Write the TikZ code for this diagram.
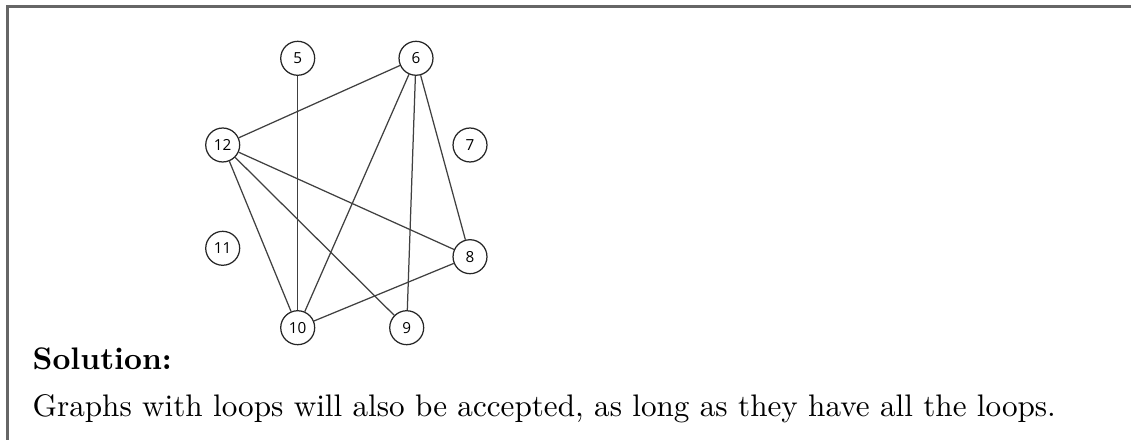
\documentclass[tikz,border=0pt]{standalone}
\usepackage{fontspec}
\usepackage{tikz}
\newfontfamily\vertexfont{Open Sans}

\tikzset{
  vertex/.style={draw=black!85, line width=0.4pt, circle, minimum size=10.9pt, inner sep=0pt, font=\vertexfont\fontsize{4.9}{5}\selectfont},
  edge/.style={draw=black!75, line width=0.4pt}
}

\begin{document}
\begin{tikzpicture}[x=0.321pt, y=-0.321pt]
\useasboundingbox (0,0) rectangle (1131,440);

% frame
\draw[black!60, line width=0.65pt] (7.5,441) -- (7.5,6.5) -- (1132,6.5);

% vertices
\node[vertex] (v5) at (297.7,58.3) {5};
\node[vertex] (v6) at (416,58.3) {6};
\node[vertex] (v7) at (470,145) {7};
\node[vertex] (v8) at (470,256.7) {8};
\node[vertex] (v9) at (406.7,327.7) {9};
\node[vertex] (v10) at (297.7,327.7) {10};
\node[vertex] (v11) at (222.7,248.3) {11};
\node[vertex] (v12) at (222.7,145) {12};

% edges
\draw[edge] (v5) -- (v10);
\draw[edge] (v6) -- (v12);
\draw[edge] (v6) -- (v10);
\draw[edge] (v6) -- (v9);
\draw[edge] (v6) -- (v8);
\draw[edge] (v12) -- (v8);
\draw[edge] (v12) -- (v9);
\draw[edge] (v12) -- (v10);
\draw[edge] (v8) -- (v10);

% text
\node[anchor=base west, inner sep=0pt] (sol) at (32,369) {\textbf{Solution:}};
\node[anchor=base west, inner sep=0pt] (note) at (32,416) {Graphs with loops will also be accepted, as long as they have all the loops.};

\end{tikzpicture}
\end{document}
